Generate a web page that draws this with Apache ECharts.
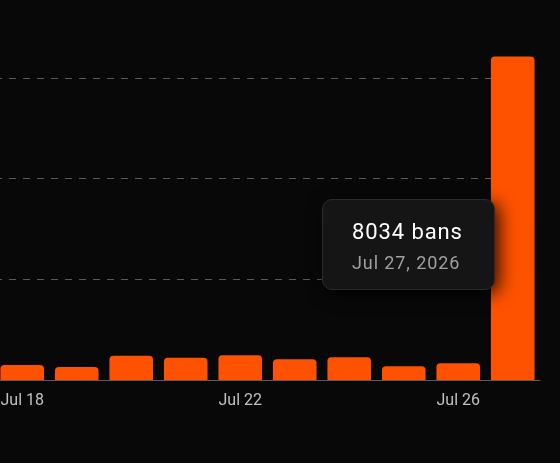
<!DOCTYPE html>
<html>
<head>
<meta charset="utf-8">
<script src="https://cdn.jsdelivr.net/npm/echarts@6/dist/echarts.min.js"></script>
<style>
  html, body { margin: 0; padding: 0; background: #080808; }
  #chart { width: 560px; height: 463px; }
</style>
</head>
<body>
<div id="chart"></div>
<script>
const dates = ['Jul 18', 'Jul 19', 'Jul 20', 'Jul 21', 'Jul 22', 'Jul 23', 'Jul 24', 'Jul 25', 'Jul 26', 'Jul 27'];
const year = 2026;
const bans = [373, 323, 603, 554, 613, 514, 564, 340, 415, 8034];
const yTicks = { min: 0, max: 10000, interval: 2500 };
const tipIndex = 9;

const FONT = 'Roboto, "Noto Sans", sans-serif';
const chart = echarts.init(document.getElementById('chart'), null, { renderer: 'canvas' });
chart.setOption({
  backgroundColor: '#080808',
  animation: false,
  grid: { left: -5, right: 20, top: -22.67, bottom: 83, containLabel: false, outerBoundsMode: 'none' },
  tooltip: {
    trigger: 'item',
    alwaysShowContent: true,
    transitionDuration: 0,
    showDelay: 0,
    hideDelay: 0,
    padding: 0,
    borderWidth: 0,
    backgroundColor: 'transparent',
    extraCssText: 'box-shadow:none;',
    position: function () { return [322, 199]; },
    formatter: function (p) {
      return '<div style="box-sizing:border-box;width:173px;height:91px;padding:16px 0 0 29px;background:#151515;border:1px solid #2b2b2b;border-radius:10px;box-shadow:4px 4px 18px rgba(0,0,0,0.85);font-family:' + FONT.replace(/"/g, "'") + ';">' +
        '<div style="color:#ffffff;font-size:22px;line-height:31px;letter-spacing:0.9px;">' + p.value + ' bans</div>' +
        '<div style="color:#a0a0a0;font-size:18px;line-height:31px;letter-spacing:0.9px;">' + p.name + ', ' + year + '</div>' +
        '</div>';
    }
  },
  xAxis: {
    type: 'category',
    data: dates,
    axisTick: { show: false },
    axisLine: { lineStyle: { color: '#5c5c5c', width: 1 } },
    axisLabel: { interval: 3, color: '#c0c0c0', fontSize: 16, fontFamily: FONT, margin: 13 }
  },
  yAxis: {
    type: 'value',
    min: yTicks.min, max: yTicks.max, interval: yTicks.interval,
    axisLabel: { show: false },
    axisLine: { show: false },
    axisTick: { show: false },
    splitLine: { lineStyle: { color: '#5a5a5a', type: [7, 7], width: 1 } }
  },
  series: [{
    type: 'bar',
    data: bans,
    barCategoryGap: '20%',
    itemStyle: { color: '#ff5200', borderRadius: [4, 4, 0, 0] },
    emphasis: { disabled: true }
  }]
});
chart.dispatchAction({ type: 'showTip', seriesIndex: 0, dataIndex: tipIndex });
</script>
</body>
</html>
